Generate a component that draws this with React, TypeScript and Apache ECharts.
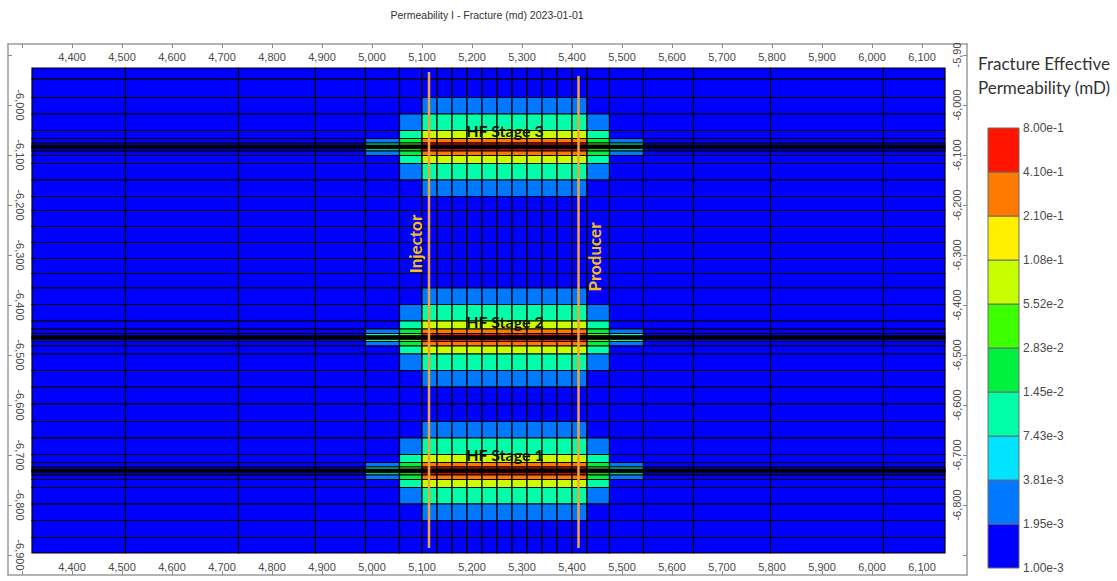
import { useEffect, useRef } from 'react';
import * as echarts from 'echarts';

// Column edges of the simulation grid (ft, I direction)
const xEdges = [
  4320, 4507, 4733, 4887, 4987, 5055, 5100, 5130, 5160, 5190, 5220, 5250, 5280,
  5310, 5340, 5370, 5400, 5430, 5475, 5543, 5643, 5797, 6023, 6146,
];

// Row edges outside the refined stage zones (ft, depth)
const topRowEdges = [-5926, -5948];
const rowEdgesStage3To2 = [-6211, -6243, -6275, -6307, -6337];
const rowEdgesStage2To1 = [-6598];
const bottomRowEdges = [-6865, -6896];

// Hydraulic fracture stages
const stageNames = ['HF Stage 3', 'HF Stage 2', 'HF Stage 1'];
const stageDepths = [-6084, -6465, -6732];
// Refined row edges around each stage, as offsets from the stage depth
const stageOffsets = [99, 66, 33, 17, 8, 3.5, 1.2, -1.2, -3.5, -8, -17, -33, -66, -99];

// Which stage-value column each grid column uses (-1 = matrix background)
const stageColumns = [-1, -1, -1, -1, 0, 1, 2, 2, 2, 2, 2, 2, 2, 2, 2, 2, 2, 3, 4, -1, -1, -1, -1];

// Permeability (mD) in each refined row band, for the five stage-value columns
const stageBandValues = [
  [0.0012, 0.0012, 0.0028, 0.0012, 0.0012],
  [0.0012, 0.0028, 0.010, 0.0028, 0.0012],
  [0.0012, 0.010, 0.080, 0.010, 0.0012],
  [0.0028, 0.020, 0.30, 0.020, 0.0028],
  [0.010, 0.040, 0.60, 0.040, 0.010],
  [0.010, 0.040, 0.60, 0.040, 0.010],
  [0.010, 0.040, 0.60, 0.040, 0.010],
  [0.010, 0.040, 0.60, 0.040, 0.010],
  [0.010, 0.040, 0.60, 0.040, 0.010],
  [0.0028, 0.020, 0.30, 0.020, 0.0028],
  [0.0012, 0.010, 0.080, 0.010, 0.0012],
  [0.0012, 0.0028, 0.010, 0.0028, 0.0012],
  [0.0012, 0.0012, 0.0028, 0.0012, 0.0012],
];
const matrixValue = 0.0012;

// Wells
const wellNames = ['Injector', 'Producer'];
const wellX = [5114, 5413];
const wellTop = [-5934, -5942];
const wellBottom = [-6886, -6886];
const wellLabelDepth = [-6278, -6304];

// Colour scale
const legendThresholds = [1.0e-3, 1.95e-3, 3.81e-3, 7.43e-3, 1.45e-2, 2.83e-2, 5.52e-2, 1.08e-1, 2.1e-1, 4.1e-1, 8.0e-1];
const bandColors = ['#0000ff', '#0078ff', '#00e4ff', '#00ffa8', '#00f040', '#3cff00', '#c8ff00', '#fff000', '#ff7800', '#ff1400'];

// Axis ticks and labels
const xTicks = [4300, 4400, 4500, 4600, 4700, 4800, 4900, 5000, 5100, 5200, 5300, 5400, 5500, 5600, 5700, 5800, 5900, 6000, 6100];
const xLabels = [4400, 4500, 4600, 4700, 4800, 4900, 5000, 5100, 5200, 5300, 5400, 5500, 5600, 5700, 5800, 5900, 6000, 6100];
const yTicks = [-5900, -6000, -6100, -6200, -6300, -6400, -6500, -6600, -6700, -6800, -6900];
const yLabelsLeft = [-6000, -6100, -6200, -6300, -6400, -6500, -6600, -6700, -6800, -6900];
const yLabelsRight = [-5900, -6000, -6100, -6200, -6300, -6400, -6500, -6600, -6700, -6800];

const X_MIN = 4272;
const X_MAX = 6190;
const Y_MIN = -6940;
const Y_MAX = -5878;

type Row = { y0: number; y1: number; band: number };

function buildRows(): Row[] {
  const rows: Row[] = [];
  const addBackground = (edges: number[]) => {
    for (let i = 0; i < edges.length - 1; i++) rows.push({ y0: edges[i], y1: edges[i + 1], band: -1 });
  };
  const addStage = (depth: number) => {
    for (let i = 0; i < stageOffsets.length - 1; i++) {
      rows.push({ y0: depth + stageOffsets[i], y1: depth + stageOffsets[i + 1], band: i });
    }
  };
  const top = stageOffsets[0];
  const bot = stageOffsets[stageOffsets.length - 1];
  addBackground([...topRowEdges, stageDepths[0] + top]);
  addStage(stageDepths[0]);
  addBackground([stageDepths[0] + bot, ...rowEdgesStage3To2, stageDepths[1] + top]);
  addStage(stageDepths[1]);
  addBackground([stageDepths[1] + bot, ...rowEdgesStage2To1, stageDepths[2] + top]);
  addStage(stageDepths[2]);
  addBackground([stageDepths[2] + bot, ...bottomRowEdges]);
  return rows;
}

function buildCells() {
  const cells: number[][] = [];
  for (const r of buildRows()) {
    for (let j = 0; j < xEdges.length - 1; j++) {
      const g = stageColumns[j];
      const v = r.band >= 0 && g >= 0 ? stageBandValues[r.band][g] : matrixValue;
      cells.push([xEdges[j], xEdges[j + 1], r.y0, r.y1, v]);
    }
  }
  return cells;
}

const fmt = (v: number) => v.toLocaleString('en-US');
const AXIS_FONT = 'Liberation Sans, Arial, sans-serif';
const LABEL_FONT = 'Lato, Open Sans, sans-serif';

function buildOption() {
  const axisLine = { show: true, onZero: false, lineStyle: { color: '#9c9c9c', width: 1.5 } };
  const axisTick = (values: number[]) => ({
    show: true, inside: true, length: 4, lineStyle: { color: '#8a8a8a', width: 1 }, customValues: values,
  });
  const labelStyle = { fontSize: 11, color: '#4a4a4a', fontFamily: AXIS_FONT };

  // Legend bar drawn from the thresholds and colours
  const legendTop = 128;
  const bandH = 44;
  const legendBottom = legendTop + bandH * bandColors.length;
  const legendEls: any[] = [];
  bandColors.forEach((c, i) => {
    legendEls.push({
      type: 'rect',
      shape: { x: 988, y: legendBottom - (i + 1) * bandH, width: 31, height: bandH },
      style: { fill: c, stroke: '#6a6a6a', lineWidth: 1 },
    });
  });
  legendThresholds.forEach((t, i) => {
    legendEls.push({
      type: 'text',
      x: 1023,
      y: legendBottom - i * bandH,
      style: {
        text: t.toExponential(2), fontSize: 12, fill: '#4a4a4a', fontFamily: AXIS_FONT,
        textAlign: 'left', verticalAlign: 'middle',
      },
    });
  });

  return {
    animation: false,
    backgroundColor: '#ffffff',
    grid: { left: 8, right: 150, top: 44, bottom: 6, containLabel: false },
    xAxis: [
      {
        type: 'value', position: 'top', min: X_MIN, max: X_MAX,
        axisLine, axisTick: axisTick(xTicks), splitLine: { show: false },
        axisLabel: { inside: true, margin: 7, customValues: xLabels, formatter: fmt, ...labelStyle },
      },
      {
        type: 'value', position: 'bottom', min: X_MIN, max: X_MAX,
        axisLine, axisTick: axisTick(xTicks), splitLine: { show: false },
        axisLabel: { inside: true, margin: 3, customValues: xLabels, formatter: fmt, ...labelStyle },
      },
    ],
    yAxis: [
      {
        type: 'value', position: 'left', min: Y_MIN, max: Y_MAX,
        axisLine, axisTick: axisTick(yTicks), splitLine: { show: false },
        axisLabel: { inside: true, margin: 6, rotate: -90, customValues: yLabelsLeft, formatter: fmt, ...labelStyle },
      },
      {
        type: 'value', position: 'right', min: Y_MIN, max: Y_MAX,
        axisLine, axisTick: axisTick(yTicks), splitLine: { show: false },
        axisLabel: {
          inside: true, margin: 5, rotate: 90, customValues: yLabelsRight,
          formatter: (v: number) => (v === -5900 ? '-5,90' : fmt(v)), ...labelStyle,
        },
      },
    ],
    visualMap: {
      type: 'piecewise', show: false, dimension: 4, seriesIndex: 0,
      pieces: bandColors.map((c, i) => ({ min: legendThresholds[i], max: legendThresholds[i + 1], color: c })),
    },
    graphic: [
      {
        type: 'text', x: 487, y: 15,
        style: {
          text: 'Permeability I - Fracture (md) 2023-01-01', fontSize: 10.5, fill: '#333',
          fontFamily: AXIS_FONT, textAlign: 'center', verticalAlign: 'middle',
        },
      },
      {
        type: 'text', x: 1044, y: 75,
        style: {
          text: 'Fracture Effective\nPermeability (mD)', fontSize: 17, lineHeight: 24, fill: '#333',
          fontFamily: LABEL_FONT, textAlign: 'center', verticalAlign: 'middle',
        },
      },
      ...legendEls,
    ],
    series: [
      {
        type: 'custom',
        name: 'cells',
        xAxisIndex: 0,
        yAxisIndex: 0,
        silent: true,
        progressive: 0,
        data: buildCells(),
        encode: { x: [0, 1], y: [2, 3] },
        renderItem: (_params: any, api: any) => {
          const p0 = api.coord([api.value(0), api.value(2)]);
          const p1 = api.coord([api.value(1), api.value(3)]);
          return {
            type: 'rect',
            shape: {
              x: Math.min(p0[0], p1[0]), y: Math.min(p0[1], p1[1]),
              width: Math.abs(p1[0] - p0[0]), height: Math.abs(p1[1] - p0[1]),
            },
            style: { fill: api.visual('color'), stroke: '#000', lineWidth: 1.2 },
          };
        },
      },
      ...wellNames.map((name, i) => ({
        type: 'line',
        name,
        xAxisIndex: 0,
        yAxisIndex: 0,
        silent: true,
        symbol: 'none',
        z: 5,
        data: [[wellX[i], wellTop[i]], [wellX[i], wellBottom[i]]],
        lineStyle: { color: '#f2a536', width: 2.5 },
      })),
      {
        type: 'custom',
        name: 'wellLabels',
        xAxisIndex: 0,
        yAxisIndex: 0,
        silent: true,
        z: 6,
        data: wellNames.map((_, i) => [wellX[i], wellLabelDepth[i]]),
        renderItem: (params: any, api: any) => {
          const p = api.coord([api.value(0), api.value(1)]);
          const dx = params.dataIndex === 0 ? -14 : 16;
          return {
            type: 'text',
            x: p[0] + dx,
            y: p[1],
            rotation: Math.PI / 2,
            style: {
              text: wellNames[params.dataIndex], fontSize: 17, fontWeight: 'bold', fill: '#f7bd1c',
              fontFamily: LABEL_FONT, align: 'center', verticalAlign: 'middle',
            },
          };
        },
      },
      {
        type: 'custom',
        name: 'stageLabels',
        xAxisIndex: 0,
        yAxisIndex: 0,
        silent: true,
        z: 6,
        data: stageDepths.map((d) => [5266, d + 33]),
        renderItem: (params: any, api: any) => {
          const p = api.coord([api.value(0), api.value(1)]);
          return {
            type: 'text',
            x: p[0],
            y: p[1],
            style: {
              text: stageNames[params.dataIndex], fontSize: 16, fontWeight: 'bold', fill: '#111',
              fontFamily: LABEL_FONT, align: 'center', verticalAlign: 'middle',
            },
          };
        },
      },
    ],
  };
}

export default function App() {
  const ref = useRef<HTMLDivElement>(null);
  useEffect(() => {
    if (!ref.current) return;
    const chart = echarts.init(ref.current, undefined, { renderer: 'svg' });
    chart.setOption(buildOption() as any);
    return () => chart.dispose();
  }, []);
  return (
    <div
      ref={ref}
      style={{ position: 'fixed', left: 0, top: 0, width: 1117, height: 581, background: '#fff' }}
    />
  );
}
